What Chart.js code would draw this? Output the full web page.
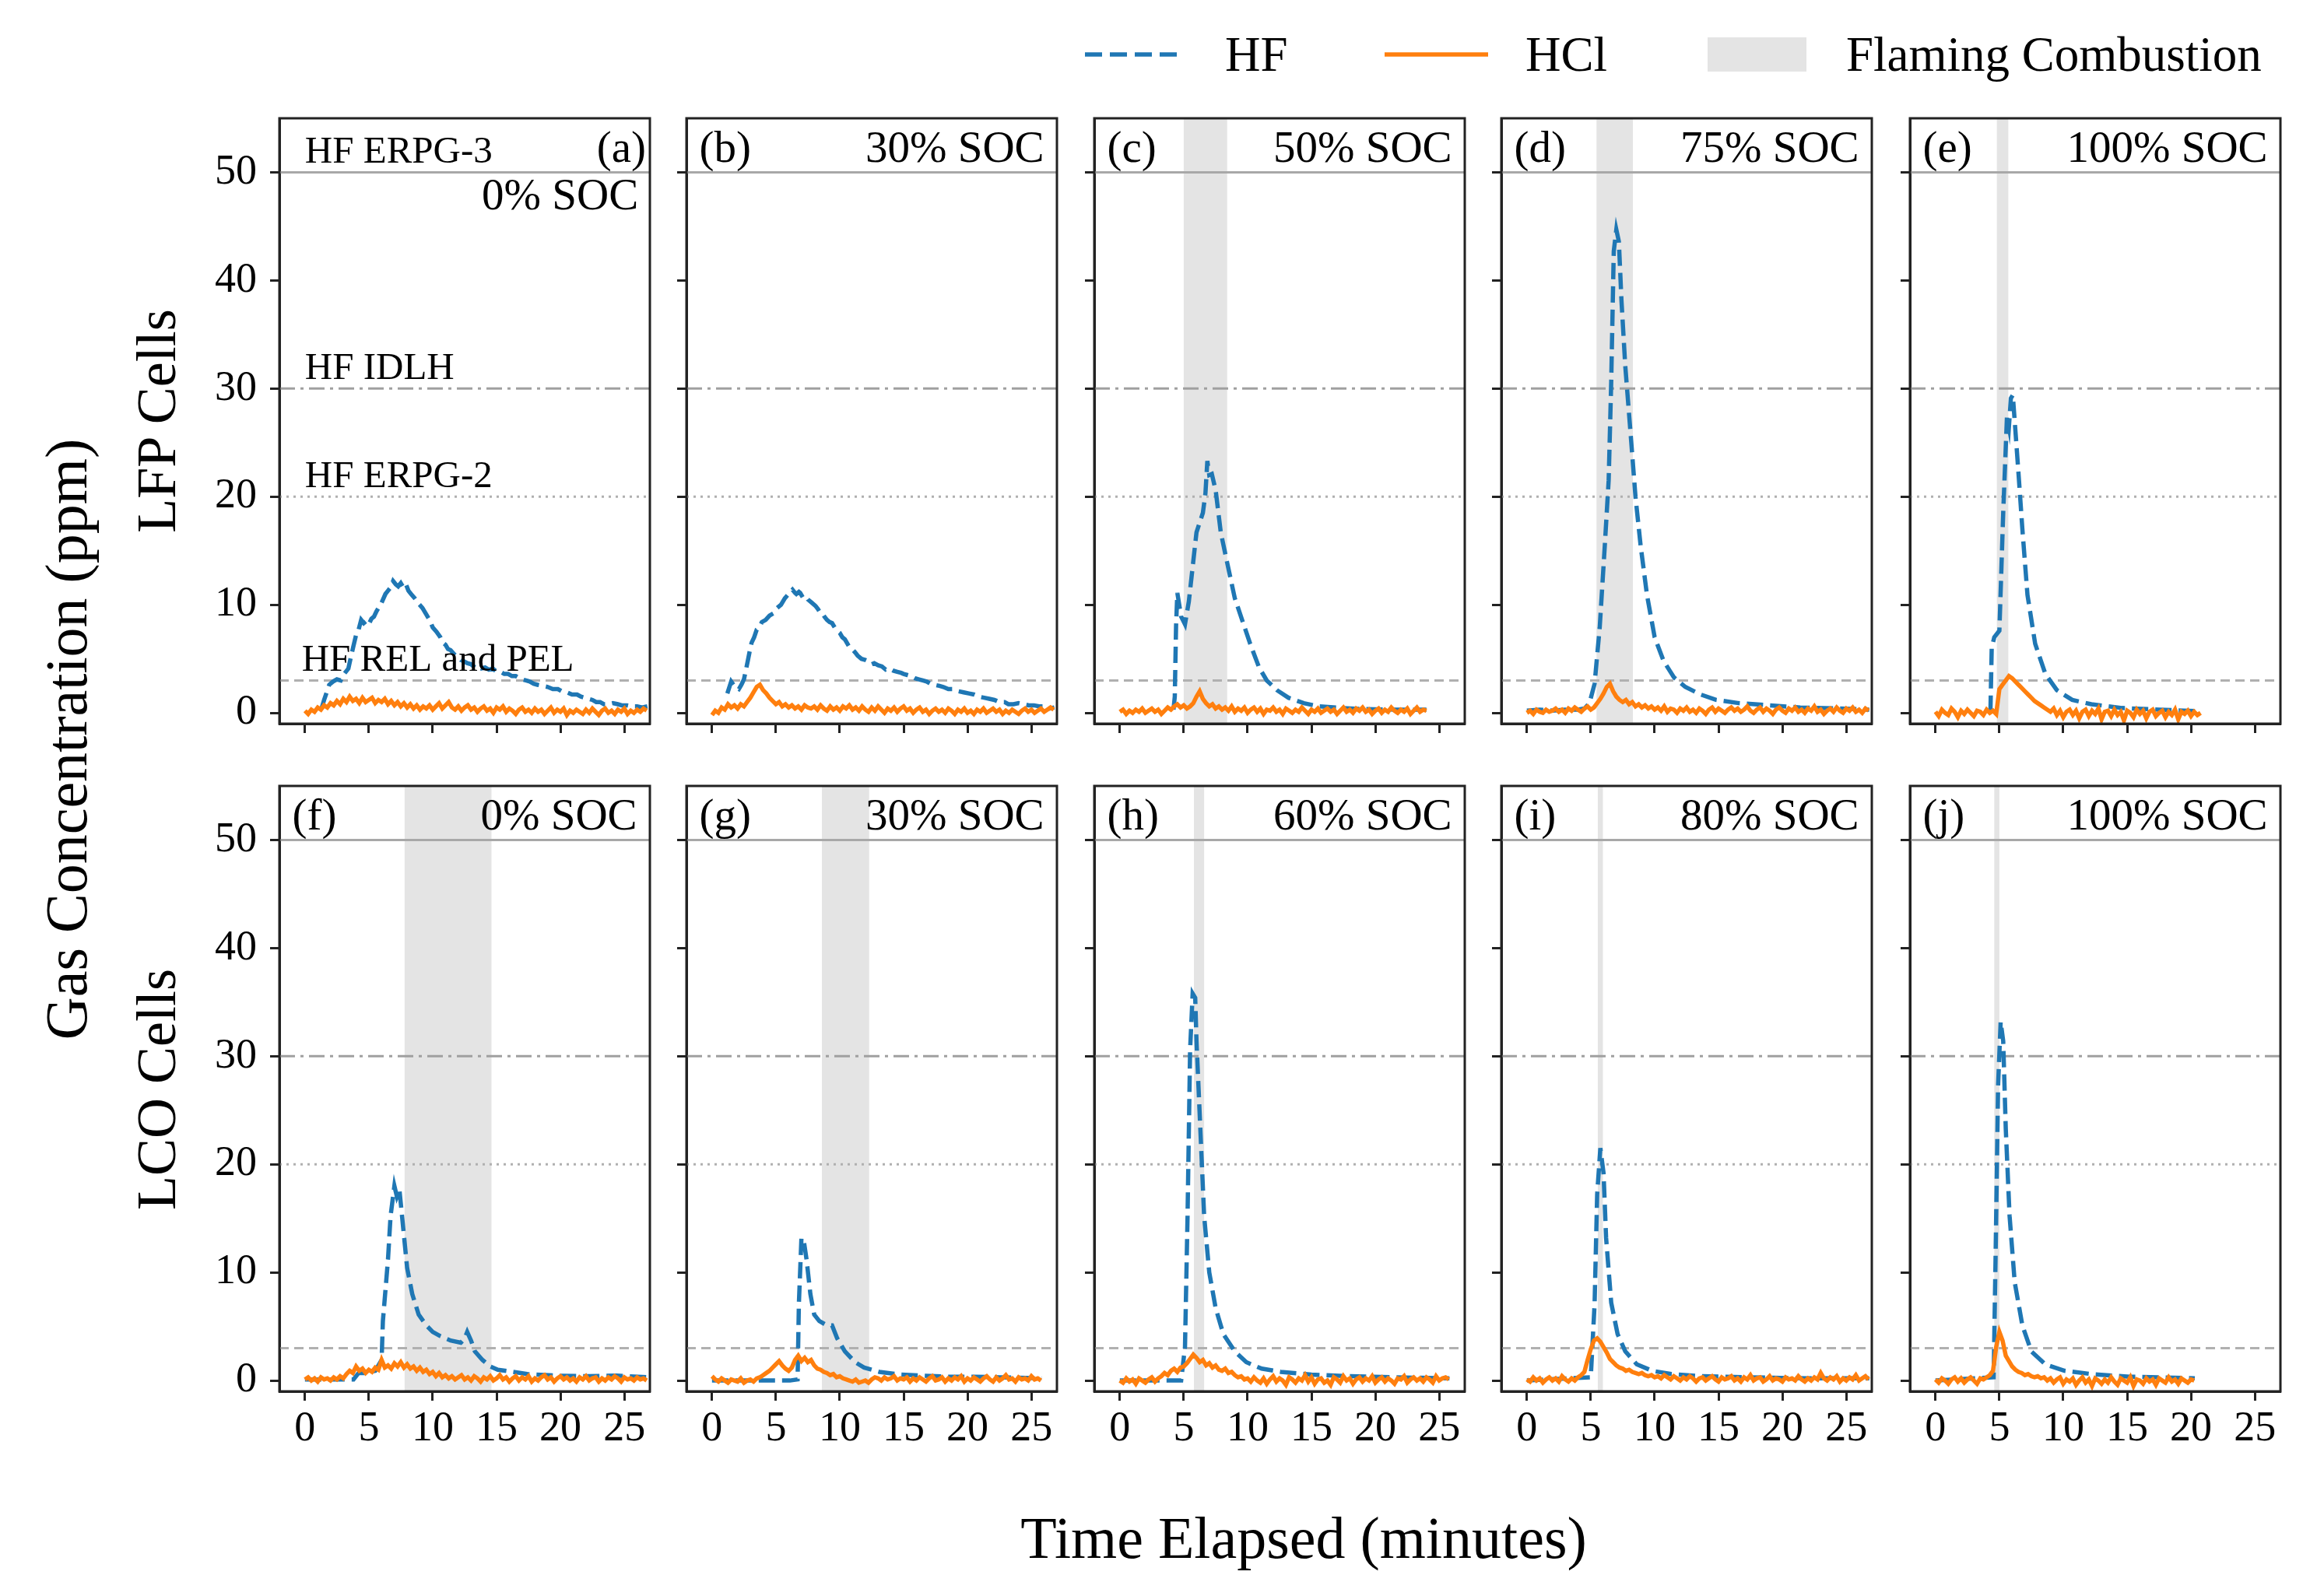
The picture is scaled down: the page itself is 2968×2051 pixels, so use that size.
<!DOCTYPE html>
<html>
<head>
<meta charset="utf-8">
<script src="https://cdn.jsdelivr.net/npm/chart.js@4.4.1/dist/chart.umd.min.js"></script>
<style>
  body { margin: 0; background: #fff; width: 2968px; height: 2051px; position: relative; overflow: hidden;
         font-family: "Liberation Serif", "DejaVu Serif", serif; }
  canvas { position: absolute; }
  .txt { position: absolute; white-space: nowrap; color: #000; line-height: 1; }
  .center { transform: translate(-50%, -50%); }
  .vert { transform: translate(-50%, -50%) rotate(-90deg); }
</style>
</head>
<body>

<!-- legend -->
<svg style="position:absolute;left:1394px;top:60px" width="130" height="20">
  <line x1="0" y1="10" x2="127" y2="10" stroke="#1f77b4" stroke-width="5.5" stroke-dasharray="22 10"/>
</svg>
<div class="txt" style="left:1574px;top:39px;font-size:63px">HF</div>
<svg style="position:absolute;left:1779px;top:60px" width="135" height="20">
  <line x1="0" y1="10" x2="133" y2="10" stroke="#ff7f0e" stroke-width="5.5"/>
</svg>
<div class="txt" style="left:1960px;top:39px;font-size:63px">HCl</div>
<div style="position:absolute;left:2194px;top:48px;width:127px;height:44px;background:#e4e4e4"></div>
<div class="txt" style="left:2372px;top:39px;font-size:63px">Flaming Combustion</div>

<!-- axis titles -->
<div class="txt vert" style="left:85px;top:950px;font-size:76px">Gas Concentration (ppm)</div>
<div class="txt vert" style="left:201px;top:541px;font-size:72px">LFP Cells</div>
<div class="txt vert" style="left:201px;top:1400px;font-size:72px">LCO Cells</div>
<div class="txt center" style="left:1675px;top:1976px;font-size:76px">Time Elapsed (minutes)</div>

<script>
// ---- data ----
const xTicks = [0, 5, 10, 15, 20, 25];
const yTicks = [0, 10, 20, 30, 40, 50];
const xMin = -2, xMax = 27, yMin = -1, yMax = 55;

const panelLetters = ["(a)", "(b)", "(c)", "(d)", "(e)", "(f)", "(g)", "(h)", "(i)", "(j)"];
const socLabels = ["0% SOC", "30% SOC", "50% SOC", "75% SOC", "100% SOC",
                   "0% SOC", "30% SOC", "60% SOC", "80% SOC", "100% SOC"];

const limitLevels = [50, 30, 20, 3];
const limitNames = ["HF ERPG-3", "HF IDLH", "HF ERPG-2", "HF REL and PEL"];

// flaming combustion windows (minutes), null = none
const flaming = [null, null, [5.0, 8.4], [5.45, 8.3], [4.8, 5.7],
                 [7.8, 14.6], [8.6, 12.3], [5.8, 6.6], [5.55, 5.95], [4.6, 5.0]];

// HF: [minutes, ppm]
const hfA = [[1.3,0.4],[1.5,1.2],[1.9,2.6],[2.2,2.9],[2.5,3.1],[2.8,3.0],[3.0,3.5],[3.4,4.1],[3.6,5.2],[3.8,6.2],[4.0,7.2],[4.2,7.7],[4.4,8.6],[4.6,8.3],[4.8,8.5],[5.0,8.2],[5.2,8.7],[5.4,8.9],[5.6,9.4],[5.8,9.8],[6.0,10.2],[6.3,11.0],[6.5,11.3],[6.7,11.6],[6.9,12.2],[7.1,11.9],[7.3,11.7],[7.5,12.0],[7.7,11.6],[7.9,11.9],[8.1,11.3],[8.3,11.0],[8.6,10.6],[8.9,10.1],[9.2,9.7],[9.5,9.1],[9.8,8.5],[10.0,7.9],[10.3,7.5],[10.6,7.0],[10.8,6.5],[11.0,6.3],[11.2,5.9],[11.4,5.8],[11.7,5.4],[11.9,5.2],[12.2,4.9],[12.4,4.8],[12.7,4.6],[13.0,4.5],[13.3,4.2],[13.5,4.3],[13.8,4.1],[14.1,4.2],[14.4,4.0],[14.7,4.1],[15.0,3.8],[15.3,3.8],[15.6,3.6],[15.9,3.6],[16.2,3.4],[16.5,3.4],[16.8,3.2],[17.0,3.1],[17.3,3.0],[17.6,2.9],[17.9,2.7],[18.2,2.6],[18.6,2.5],[19.0,2.4],[19.4,2.2],[19.8,2.2],[20.1,2.0],[20.5,1.9],[20.9,1.7],[21.3,1.7],[21.6,1.5],[21.9,1.4],[22.2,1.3],[22.5,1.2],[22.8,1.0],[23.1,1.0],[23.4,0.8],[23.7,0.8],[24.1,0.9],[24.5,0.8],[24.8,0.7],[25.2,0.7],[25.6,0.6],[26.0,0.6],[26.4,0.5],[26.8,0.6]];
const hfB = [[1.2,1.8],[1.5,2.9],[1.8,2.4],[2.1,2.2],[2.3,2.6],[2.5,3.1],[2.8,4.8],[3.0,6.0],[3.1,6.5],[3.3,7.0],[3.5,7.7],[3.7,7.9],[3.9,8.4],[4.2,8.6],[4.5,9.0],[4.8,9.2],[5.1,9.7],[5.4,10.0],[5.7,10.6],[6.0,11.0],[6.3,11.4],[6.5,11.1],[6.6,11.0],[6.8,11.2],[6.9,11.1],[7.1,10.7],[7.2,10.6],[7.4,10.7],[7.5,10.5],[7.8,10.2],[8.1,9.9],[8.3,9.6],[8.4,9.4],[8.6,9.3],[8.8,8.9],[9.0,8.6],[9.2,8.4],[9.4,8.3],[9.6,7.9],[9.8,7.6],[10.0,7.4],[10.2,7.0],[10.4,6.8],[10.7,6.2],[10.9,6.0],[11.2,5.6],[11.4,5.3],[11.7,5.0],[12.0,4.9],[12.2,4.8],[12.5,4.5],[12.7,4.6],[13.0,4.4],[13.3,4.3],[13.6,4.0],[13.9,4.1],[14.2,3.9],[14.5,3.8],[14.8,3.7],[15.0,3.6],[15.3,3.5],[15.6,3.4],[15.9,3.2],[16.2,3.1],[16.5,3.0],[16.8,2.9],[17.1,2.7],[17.4,2.6],[17.8,2.5],[18.1,2.4],[18.5,2.2],[18.9,2.2],[19.3,2.0],[19.7,1.9],[20.1,1.8],[20.5,1.7],[20.9,1.5],[21.3,1.4],[21.7,1.3],[22.1,1.2],[22.5,1.0],[22.9,1.0],[23.2,0.8],[23.6,0.8],[24.0,0.9],[24.4,0.8],[24.8,0.7],[25.2,0.7],[25.6,0.6],[26.0,0.6],[26.4,0.4],[26.8,0.5]];
const hfC = [[4.2,0.3],[4.3,1.5],[4.4,8.0],[4.5,11.1],[4.65,10.0],[4.8,8.9],[5.1,8.2],[5.4,10.3],[5.7,13.5],[6.0,16.7],[6.5,18.5],[6.7,20.3],[6.85,23.3],[7.0,22.0],[7.2,22.1],[7.5,20.6],[7.9,16.7],[8.4,13.9],[9.0,10.6],[9.6,8.5],[10.2,6.4],[10.9,4.2],[11.5,3.0],[12.3,2.1],[13.2,1.4],[14.4,0.9],[15.6,0.6],[17.4,0.45],[19.2,0.35],[21.6,0.3],[24.0,0.3]];
const hfD = [[0,0.2],[1,0.3],[2,0.2],[3,0.3],[4,0.3],[4.5,0.4],[4.9,0.9],[5.3,2.7],[5.7,7.9],[6.1,15.5],[6.4,21.5],[6.6,30.6],[6.8,42.7],[7.0,44.7],[7.2,43.6],[7.4,38.2],[7.7,32.1],[8.1,26.1],[8.5,20.0],[8.9,15.5],[9.4,10.9],[10.0,7.0],[10.7,4.8],[11.5,3.3],[12.4,2.4],[13.6,1.7],[14.8,1.2],[16.6,0.9],[19.0,0.7],[21.4,0.5],[24.4,0.4],[26.8,0.3]];
const hfE = [[4.3,0.1],[4.4,6.0],[4.6,7.0],[5.0,7.6],[5.3,18.5],[5.6,27.6],[5.75,26.5],[5.9,29.1],[6.05,29.4],[6.2,27.0],[6.5,22.1],[6.8,17.0],[7.2,10.9],[7.8,6.4],[8.6,3.6],[9.5,2.1],[10.7,1.2],[12.2,0.8],[14.6,0.45],[17.5,0.3],[20.7,0.15]];
const hfF = [[0,0.1],[2,0.1],[3.8,0.1],[4.2,0.7],[4.8,0.7],[5.5,0.9],[6.0,1.9],[6.1,5.5],[6.5,11.2],[6.7,15.2],[7.0,18.0],[7.2,17.0],[7.4,17.6],[7.7,14.0],[8.0,10.4],[8.4,8.0],[8.9,6.1],[9.5,5.1],[10.0,4.5],[10.6,4.1],[11.4,3.7],[12.2,3.5],[12.5,3.9],[12.7,4.5],[13.0,3.7],[13.3,2.7],[13.9,1.9],[14.5,1.3],[15.1,1.0],[16.3,0.8],[17.4,0.6],[19.8,0.45],[22.1,0.4],[24.4,0.45],[26.8,0.3]];
const hfG = [[0,0.0],[4.6,0.0],[6.1,0.0],[6.7,0.1],[6.8,7.1],[7.0,13.2],[7.2,12.8],[7.4,11.2],[7.7,8.0],[8.0,6.1],[8.4,5.5],[9.0,5.1],[9.4,5.1],[9.8,3.9],[10.4,2.7],[11.2,1.7],[11.9,1.2],[13.1,0.8],[14.7,0.55],[16.6,0.45],[18.6,0.35],[20.5,0.35],[22.5,0.3],[25.8,0.2]];
const hfH = [[0,0],[4.8,0],[5.1,3.1],[5.3,15.2],[5.5,30.6],[5.7,35.8],[5.9,35.4],[6.0,31.4],[6.3,23.3],[6.6,15.2],[7.0,10.0],[7.5,6.7],[8.1,4.3],[9.0,2.7],[9.9,1.7],[11.1,1.1],[12.6,0.8],[15.0,0.55],[18.0,0.4],[21.6,0.3],[25.8,0.2]];
const hfI = [[0,0],[5.0,0.3],[5.3,7.1],[5.5,17.2],[5.75,21.5],[6.0,19.2],[6.2,13.2],[6.6,7.2],[7.1,4.3],[7.7,2.7],[8.6,1.5],[9.8,0.9],[11.3,0.6],[13.7,0.4],[17.2,0.3],[22.0,0.2],[26.8,0.2]];
const hfJ = [[0,0],[4.55,0.3],[4.7,11.2],[4.9,27.3],[5.1,33.2],[5.3,31.4],[5.5,23.3],[5.8,15.2],[6.2,9.1],[6.8,5.1],[7.5,2.7],[8.6,1.5],[10.1,0.9],[12.2,0.6],[15.2,0.35],[17.6,0.3],[20.3,0.2]];

// HCl: ppm sampled every hclStep minutes from t = 0
const hclStep = 0.25;
const hclA = [0.2,-0.1,0.3,0.1,0.5,0.3,0.7,0.5, 0.9,0.7,1.1,0.8,1.3,1.0,1.5,1.1, 1.3,0.9,1.4,1.0,1.2,1.4,0.9,1.2, 1.0,1.3,0.8,1.1,0.7,1.0,0.6,0.9, 0.5,0.8,0.4,0.7,0.3,0.6,0.4,0.7, 0.3,0.6,0.9,0.4,0.7,1.0,0.5,0.3, 0.6,0.2,0.5,0.7,0.3,0.5,0.1,0.4, 0.6,0.2,0.4,0.0,0.5,0.3,0.6,0.1, 0.4,0.2,-0.1,0.3,0.5,0.1,0.3,0.0, 0.4,0.1,0.3,-0.1,0.2,0.5,0.0,0.3, 0.1,0.4,-0.2,0.2,0.0,0.3,0.1,-0.1, 0.3,0.0,0.4,0.1,-0.2,0.2,0.4,0.0, 0.2,-0.1,0.3,0.1,0.4,-0.1,0.2,0.0, 0.3,0.1,0.4,0.2];
const hclB = [-0.2,0.2,0.0,0.5,0.3,0.8,0.5,0.7, 0.4,0.8,0.6,1.0,1.4,1.9,2.4,2.6, 2.1,1.8,1.4,1.1,0.8,1.0,0.6,0.8, 0.5,0.7,0.4,0.6,0.3,0.7,0.5,0.4, 0.6,0.3,0.7,0.4,0.2,0.6,0.3,0.5, 0.2,0.6,0.4,0.7,0.3,0.5,0.2,0.6, 0.3,0.1,0.5,0.2,0.6,0.3,0.0,0.4, 0.2,0.5,0.1,0.4,0.6,0.2,0.4,0.0, 0.3,0.5,0.1,0.3,-0.1,0.2,0.4,0.1, 0.3,0.0,0.4,0.2,-0.1,0.3,0.1,0.4, 0.0,0.2,-0.1,0.3,0.1,0.4,0.0,0.2, 0.4,0.1,0.3,-0.1,0.2,0.0,0.3,0.1, -0.1,0.2,0.4,0.1,0.3,0.0,0.2,0.4, 0.1,0.3,0.5,0.3];
const hclC = [0.1,0.3,-0.1,0.2,0.0,0.3,0.1,0.4, 0.0,0.2,0.4,0.1,0.3,-0.1,0.2,0.5, 0.3,0.6,0.8,0.5,0.7,0.4,0.6,0.9, 1.5,2.0,1.3,0.9,0.6,0.8,0.4,0.6, 0.3,0.5,0.2,0.6,0.1,0.4,0.2,0.5, 0.0,0.3,0.5,0.1,0.4,-0.1,0.3,0.2, 0.5,0.1,0.3,-0.1,0.4,0.2,0.0,0.3, 0.1,0.5,0.2,-0.1,0.3,0.1,0.4,0.0, 0.2,0.4,0.1,0.3,-0.1,0.2,0.5,0.1, 0.3,0.0,0.4,0.2,0.5,0.1,0.3,-0.1, 0.2,0.4,0.0,0.3,0.1,0.5,0.2,0.0, 0.3,0.1,0.4,-0.1,0.2,0.5,0.1,0.3, 0.2];
const hclD = [0.0,0.2,-0.1,0.3,0.1,0.0,0.3,0.1, 0.2,0.4,0.1,0.3,0.0,0.4,0.2,0.5, 0.3,0.1,0.4,0.6,0.3,0.5,0.9,1.3, 1.8,2.4,2.7,2.0,1.5,1.2,1.0,1.2, 0.8,1.0,0.6,0.8,0.5,0.7,0.4,0.6, 0.3,0.5,0.2,0.6,0.1,0.4,0.3,0.0, 0.4,0.2,0.5,0.1,0.3,0.0,0.4,0.2, -0.1,0.3,0.5,0.1,0.4,0.2,0.0,0.3, 0.5,0.2,0.4,0.1,0.3,0.6,0.2,0.0, 0.3,0.5,0.1,0.4,0.2,-0.1,0.3,0.5, 0.2,0.0,0.4,0.2,0.5,0.1,0.3,0.0, 0.4,0.2,0.6,0.1,0.3,-0.1,0.2,0.4, 0.1,0.5,0.2,0.0,0.4,0.2,0.5,0.1, 0.3,0.0,0.4,0.2];
const hclE = [0.1,-0.3,0.3,0.0,-0.2,0.4,0.1,-0.4, 0.2,-0.1,0.3,0.0,-0.3,0.2,0.1,-0.2, 0.3,0.0,0.2,-0.1,2.2,2.6,3.0,3.4, 3.2,2.9,2.6,2.3,2.0,1.7,1.4,1.1, 0.9,0.7,0.5,0.3,0.1,0.4,-0.2,0.2, -0.4,0.1,0.3,-0.2,0.2,-0.5,0.1,0.3, -0.3,0.2,-0.1,0.4,-0.6,0.1,0.2,-0.3, 0.3,-0.2,0.1,-0.7,0.2,0.0,-0.4,0.3, -0.1,0.2,-0.5,0.1,0.3,-0.3,0.0,0.2, -0.4,0.1,-0.2,0.3,-0.6,0.1,-0.1,0.2, -0.3,0.1,-0.2,0.0];
const hclF = [0.1,0.3,0.0,0.2,-0.1,0.3,0.1,0.2, 0.0,0.3,0.1,0.4,0.2,0.6,0.9,0.7, 1.3,0.9,1.1,0.7,1.0,0.8,1.2,1.0, 1.9,1.2,1.4,1.1,1.6,1.3,1.7,1.2, 1.5,1.1,1.3,0.9,1.2,0.8,1.0,0.6, 0.8,0.4,0.7,0.3,0.5,0.2,0.4,0.1, 0.3,0.5,0.1,0.3,0.0,0.4,0.2,-0.1, 0.3,0.1,0.4,0.0,0.2,0.5,0.1,0.3, -0.1,0.2,0.4,0.0,0.3,0.1,0.4,-0.1, 0.2,0.0,0.3,0.5,0.1,0.3,-0.1,0.2, 0.4,0.1,0.3,0.0,0.2,-0.1,0.3,0.1, 0.4,0.0,0.2,0.3,-0.1,0.2,0.0,0.3, 0.1,0.4,0.2,-0.1,0.3,0.1,0.2,0.0, 0.3,0.1,0.2,0.0];
const hclG = [0.4,0.1,-0.1,0.2,0.0,-0.2,0.1,0.0, -0.1,0.2,-0.2,0.0,0.1,-0.1,0.2,0.3, 0.5,0.7,0.9,1.2,1.5,1.8,1.4,1.1, 0.9,1.2,1.9,2.3,1.8,2.1,1.7,1.9, 1.4,1.1,1.0,0.8,0.7,0.5,0.6,0.3, 0.4,0.2,0.1,0.0,-0.1,0.1,-0.2,-0.1, 0.0,-0.2,0.1,0.3,0.2,0.0,0.3,0.1, 0.2,0.4,0.0,0.2,0.1,0.3,-0.1,0.2, 0.0,0.3,0.1,-0.1,0.2,0.4,0.0,0.1, 0.3,-0.1,0.2,0.0,0.3,0.1,0.4,-0.1, 0.2,0.0,0.3,0.1,-0.1,0.2,0.4,0.1, -0.1,0.3,0.0,0.2,0.5,0.1,0.2,-0.1, 0.3,0.1,0.2,0.0,0.4,0.1,0.2,0.0];
const hclH = [0.0,-0.2,0.2,-0.1,0.1,-0.3,0.2,0.0, -0.2,0.1,0.3,-0.1,0.2,0.4,0.7,0.5, 0.9,1.1,0.8,1.2,1.3,1.6,2.0,2.4, 2.1,1.7,1.9,1.4,1.6,1.2,1.4,1.0, 0.9,1.1,0.7,0.8,0.5,0.3,0.4,0.1, 0.2,-0.1,0.3,0.0,-0.2,0.2,-0.3,0.1, 0.4,-0.1,0.2,0.0,-0.4,0.3,0.1,-0.2, 0.2,0.0,0.5,-0.1,0.3,-0.3,0.1,0.2, -0.2,0.0,-0.4,0.3,0.1,-0.2,0.4,0.0, 0.2,-0.3,0.1,0.3,-0.1,0.2,0.0,0.4, -0.2,0.1,0.3,-0.1,0.2,0.0,-0.3,0.2, 0.1,0.4,-0.2,0.1,0.3,0.0,0.2,-0.1, 0.3,0.1,-0.2,0.4,0.0,0.2,0.3,0.1];
const hclI = [0.1,-0.1,0.3,0.0,0.2,-0.2,0.1,0.3, 0.0,0.2,-0.1,0.4,0.1,-0.1,0.2,0.0, 0.3,0.5,0.8,1.9,2.9,3.7,3.9,3.6, 3.1,2.6,2.0,1.7,1.4,1.2,1.1,0.9, 1.0,0.8,0.7,0.6,0.7,0.5,0.4,0.5, 0.3,0.4,0.2,0.5,0.3,0.1,0.4,0.2, 0.0,0.3,0.1,0.4,0.2,-0.1,0.2,0.3, 0.0,0.2,0.4,0.1,-0.1,0.3,0.1,0.2, 0.4,0.0,0.2,-0.1,0.3,0.1,0.5,0.0, 0.2,0.3,-0.1,0.1,0.4,0.0,0.2,0.1, -0.1,0.3,0.1,0.2,0.0,0.4,0.1,-0.1, 0.2,0.0,0.3,0.1,0.7,0.2,0.0,0.3, 0.1,0.4,-0.1,0.2,0.0,0.3,0.1,0.5, 0.0,0.2,0.4,0.1];
const hclJ = [0.1,-0.2,0.2,0.0,-0.3,0.1,0.3,-0.1, 0.2,-0.2,0.1,0.3,0.0,-0.3,0.2,0.1, 0.3,0.5,0.9,3.1,4.5,3.7,2.3,1.8, 1.3,1.0,0.8,0.7,0.5,0.6,0.4,0.3, 0.4,0.2,0.3,0.0,0.2,-0.2,0.1,0.3, -0.3,0.1,-0.1,0.2,-0.4,0.0,0.3,-0.2, 0.1,-0.5,0.2,0.0,-0.3,0.1,-0.2,0.3, -0.1,-0.4,0.2,0.0,-0.2,0.3,-0.5,0.1, 0.0,-0.3,0.2,-0.1,0.1,-0.4,0.2,0.0, -0.2,0.3,-0.1,0.1,-0.3,0.2,0.0,-0.2, 0.1,0.0];

const hfSeries = [hfA, hfB, hfC, hfD, hfE, hfF, hfG, hfH, hfI, hfJ];
const hclSeries = [hclA, hclB, hclC, hclD, hclE, hclF, hclG, hclH, hclI, hclJ];

// ---- layout ----
const colLeft = [359, 882, 1406, 1929, 2454];
const rowTop = [152, 1010];
const panelW = 476, panelH = 778;
const padL = 110, padT = 10, padR = 10, padB = 110;

const serif = '"Liberation Serif", "DejaVu Serif", serif';
const axisColor = '#222';
const limitStyles = [
    { color: '#a8a8a8', dash: [] },
    { color: '#a0a0a0', dash: [20, 7, 4, 7] },
    { color: '#b0b0b0', dash: [3, 6] },
    { color: '#b0b0b0', dash: [12, 7] }
];

function panelPlugin(idx) {
    return {
        id: 'panelDecor' + idx,
        beforeDatasetsDraw(chart) {
            const span = flaming[idx];
            if (!span) return;
            const { ctx, chartArea, scales } = chart;
            const x0 = scales.x.getPixelForValue(span[0]);
            const x1 = scales.x.getPixelForValue(span[1]);
            ctx.save();
            ctx.fillStyle = '#e4e4e4';
            ctx.fillRect(x0, chartArea.top, x1 - x0, chartArea.bottom - chartArea.top);
            ctx.restore();
        },
        afterDatasetsDraw(chart) {
            const { ctx, scales } = chart;
            const px = v => scales.x.getPixelForValue(v);
            const py = v => scales.y.getPixelForValue(v);
            ctx.save();
            ctx.fillStyle = '#000';
            ctx.textBaseline = 'alphabetic';
            if (idx === 0) {
                ctx.font = '49px ' + serif;
                ctx.textAlign = 'left';
                limitNames.forEach((name, k) => {
                    const x = k === 3 ? -0.25 : 0;
                    ctx.fillText(name, px(x), py(limitLevels[k] + 0.9));
                });
                ctx.font = '57px ' + serif;
                ctx.textAlign = 'right';
                ctx.fillText(panelLetters[idx], px(26.7), py(51.0));
                ctx.fillText(socLabels[idx], px(26.1), py(46.6));
            } else {
                ctx.font = '57px ' + serif;
                ctx.textAlign = 'left';
                ctx.fillText(panelLetters[idx], px(-1.0), py(51.0));
                ctx.textAlign = 'right';
                ctx.fillText(socLabels[idx], px(26.0), py(51.0));
            }
            ctx.restore();
        },
        afterDraw(chart) {
            const { ctx, chartArea } = chart;
            ctx.save();
            ctx.strokeStyle = axisColor;
            ctx.lineWidth = 3;
            ctx.strokeRect(chartArea.left, chartArea.top,
                chartArea.right - chartArea.left, chartArea.bottom - chartArea.top);
            ctx.restore();
        }
    };
}

function fixPadding(s) {
    s.paddingTop = 0;
    s.paddingBottom = 0;
    s.paddingLeft = 0;
    s.paddingRight = 0;
}

function makePanel(idx) {
    const row = Math.floor(idx / 5), col = idx % 5;
    const canvas = document.createElement('canvas');
    canvas.width = panelW + padL + padR;
    canvas.height = panelH + padT + padB;
    canvas.style.left = (colLeft[col] - padL) + 'px';
    canvas.style.top = (rowTop[row] - padT) + 'px';
    document.body.appendChild(canvas);

    const hclPoints = hclSeries[idx].map((v, i) => ({ x: i * hclStep, y: v }));
    const hfPoints = hfSeries[idx].map(p => ({ x: p[0], y: p[1] }));
    const limitSets = limitLevels.map((lv, k) => ({
        data: [{ x: xMin, y: lv }, { x: xMax, y: lv }],
        borderColor: limitStyles[k].color,
        borderDash: limitStyles[k].dash,
        borderWidth: 3
    }));

    new Chart(canvas, {
        type: 'line',
        data: {
            datasets: [
                { label: 'HCl', data: hclPoints, borderColor: '#ff7f0e', borderWidth: 5.5 },
                { label: 'HF', data: hfPoints, borderColor: '#1f77b4', borderWidth: 5.5, borderDash: [21, 9] },
                ...limitSets
            ]
        },
        options: {
            responsive: false,
            animation: false,
            devicePixelRatio: 1,
            layout: { padding: { top: padT, right: padR, left: 0, bottom: 0 } },
            elements: { point: { radius: 0 }, line: { tension: 0, fill: false } },
            plugins: { legend: { display: false }, tooltip: { enabled: false } },
            scales: {
                x: {
                    type: 'linear',
                    min: xMin,
                    max: xMax,
                    afterBuildTicks: s => { s.ticks = xTicks.map(v => ({ value: v })); },
                    afterFit: s => { s.height = padB; fixPadding(s); },
                    ticks: {
                        display: row === 1,
                        autoSkip: false,
                        maxRotation: 0,
                        padding: 4,
                        color: '#000',
                        font: { family: serif, size: 54 }
                    },
                    grid: { drawOnChartArea: false, tickLength: 12, tickWidth: 3, tickColor: axisColor },
                    border: { color: axisColor, width: 3 }
                },
                y: {
                    type: 'linear',
                    min: yMin,
                    max: yMax,
                    afterBuildTicks: s => { s.ticks = yTicks.map(v => ({ value: v })); },
                    afterFit: s => { s.width = padL; fixPadding(s); },
                    ticks: {
                        display: col === 0,
                        padding: 17,
                        color: '#000',
                        font: { family: serif, size: 54 }
                    },
                    grid: { drawOnChartArea: false, tickLength: 12, tickWidth: 3, tickColor: axisColor },
                    border: { color: axisColor, width: 3 }
                }
            }
        },
        plugins: [panelPlugin(idx)]
    });
}

for (let i = 0; i < 10; i++) makePanel(i);
</script>
</body>
</html>
